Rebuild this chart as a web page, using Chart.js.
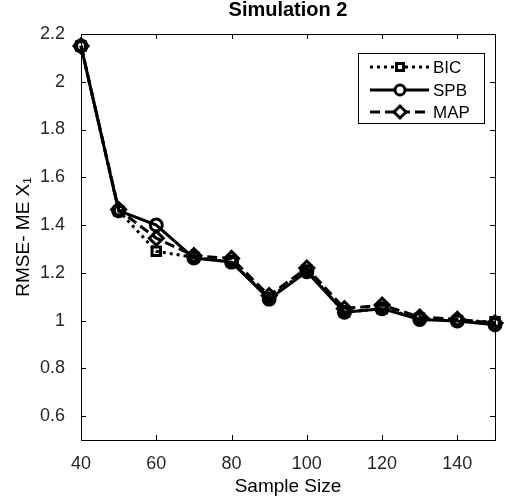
<!DOCTYPE html>
<html>
<head>
<meta charset="utf-8">
<script src="https://cdn.jsdelivr.net/npm/chart.js@4"></script>
<style>
  html, body { margin: 0; padding: 0; background: #fff; }
  #wrap { width: 505px; height: 502px; }
</style>
</head>
<body>
<div id="wrap"><canvas id="myChart"></canvas></div>
<script>
// Sample sizes (x axis)
const sampleSizes = [40, 50, 60, 70, 80, 90, 100, 110, 120, 130, 140, 150];

// RMSE values
const bicValues = [2.15, 1.46, 1.29, 1.265, 1.245, 1.095, 1.21, 1.035, 1.05, 1.01, 1.0, 0.995];
const spbValues = [2.15, 1.46, 1.40, 1.262, 1.245, 1.09, 1.205, 1.035, 1.05, 1.005, 0.998, 0.983];
const mapValues = [2.15, 1.465, 1.345, 1.272, 1.26, 1.105, 1.22, 1.05, 1.065, 1.015, 1.005, 0.99];

// Tick labels
const xTicks = [40, 60, 80, 100, 120, 140];
const yTicks = [0.6, 0.8, 1, 1.2, 1.4, 1.6, 1.8, 2, 2.2];

const font = 'Arial, "Liberation Sans", sans-serif';
const textColor = '#262626';

function toPoints(values) {
  return values.map((v, i) => ({ x: sampleSizes[i], y: v }));
}

// Box, inward ticks and legend (MATLAB style)
const matlabAxes = {
  id: 'matlabAxes',
  afterDraw(chart) {
    const ctx = chart.ctx;
    const area = chart.chartArea;
    const xs = chart.scales.x;
    const ys = chart.scales.y;
    ctx.save();
    ctx.strokeStyle = '#000';
    ctx.lineWidth = 1;
    ctx.strokeRect(area.left + 0.5, area.top + 0.5, area.right - area.left, area.bottom - area.top);

    const len = 5;
    xTicks.forEach((t) => {
      const px = Math.round(xs.getPixelForValue(t)) + 0.5;
      ctx.beginPath();
      ctx.moveTo(px, area.bottom); ctx.lineTo(px, area.bottom - len);
      ctx.moveTo(px, area.top); ctx.lineTo(px, area.top + len);
      ctx.stroke();
    });
    yTicks.forEach((t) => {
      const py = Math.round(ys.getPixelForValue(t)) + 0.5;
      ctx.beginPath();
      ctx.moveTo(area.left, py); ctx.lineTo(area.left + len, py);
      ctx.moveTo(area.right, py); ctx.lineTo(area.right - len, py);
      ctx.stroke();
    });

    // Legend
    const bx = 358, by = 53, bw = 126, bh = 70;
    ctx.fillStyle = '#fff';
    ctx.fillRect(bx, by, bw, bh);
    ctx.strokeStyle = '#000';
    ctx.lineWidth = 1;
    ctx.strokeRect(bx + 0.5, by + 0.5, bw, bh);

    const rows = [67, 90, 112];
    chart.data.datasets.forEach((ds, i) => {
      const y = rows[i];
      ctx.save();
      ctx.strokeStyle = '#000';
      ctx.lineWidth = ds.borderWidth;
      ctx.setLineDash(ds.borderDash || []);
      ctx.beginPath();
      ctx.moveTo(370, y);
      ctx.lineTo(429, y);
      ctx.stroke();
      ctx.setLineDash([]);
      ctx.fillStyle = '#fff';
      ctx.lineWidth = ds.pointBorderWidth;
      Chart.helpers.drawPoint(ctx, {
        pointStyle: ds.pointStyle,
        rotation: 0,
        radius: ds.pointRadius - 1,
        borderWidth: ds.pointBorderWidth
      }, 400, y);
      ctx.fillStyle = '#000';
      ctx.font = '17px ' + font;
      ctx.textBaseline = 'middle';
      ctx.textAlign = 'left';
      ctx.fillText(ds.label, 433, y + 1);
      ctx.restore();
    });
    ctx.restore();
  }
};

const common = {
  borderColor: '#000',
  borderWidth: 3,
  pointBorderColor: '#000',
  pointBackgroundColor: 'rgba(255,255,255,0)',
  pointBorderWidth: 3,
  pointRadius: 6,
  fill: false,
  tension: 0,
  clip: false
};

new Chart(document.getElementById('myChart'), {
  type: 'line',
  data: {
    datasets: [
      Object.assign({}, common, { label: 'BIC', data: toPoints(bicValues), borderDash: [3, 4], pointStyle: 'rect', pointRadius: 6 }),
      Object.assign({}, common, { label: 'SPB', data: toPoints(spbValues), pointStyle: 'circle' }),
      Object.assign({}, common, { label: 'MAP', data: toPoints(mapValues), borderDash: [10, 5], pointStyle: 'rectRot', pointRadius: 7 })
    ]
  },
  options: {
    responsive: true,
    maintainAspectRatio: false,
    animation: false,
    layout: { padding: { right: 9, left: 0, top: 0, bottom: 0 } },
    plugins: {
      legend: { display: false },
      tooltip: { enabled: false },
      title: {
        display: true,
        fullSize: false,
        text: 'Simulation 2',
        color: '#000',
        font: { family: font, size: 20, weight: 'bold', lineHeight: 1 },
        padding: { top: 0, bottom: 14 }
      }
    },
    scales: {
      x: {
        type: 'linear',
        min: 40,
        max: 150,
        afterBuildTicks: (scale) => { scale.ticks = xTicks.map((v) => ({ value: v })); },
        afterFit: (scale) => { scale.height = 62; },
        grid: { display: false },
        border: { display: true, color: '#000', width: 1 },
        ticks: { color: textColor, font: { family: font, size: 18 }, padding: 5, maxRotation: 0 },
        title: {
          display: true,
          text: 'Sample Size',
          color: '#000',
          font: { family: font, size: 19 },
          padding: { top: 0, bottom: 4 }
        }
      },
      y: {
        type: 'linear',
        min: 0.5,
        max: 2.2,
        afterBuildTicks: (scale) => { scale.ticks = yTicks.map((v) => ({ value: v })); },
        afterFit: (scale) => { scale.width = 81; },
        grid: { display: false },
        border: { display: true, color: '#000', width: 1 },
        ticks: {
          color: textColor,
          font: { family: font, size: 18 },
          padding: 8,
          callback: (v) => String(Math.round(v * 10) / 10)
        },
        title: {
          display: true,
          text: 'RMSE- ME X\u2081',
          color: '#000',
          font: { family: font, size: 19 },
          padding: { top: 12, bottom: 0 }
        }
      }
    }
  },
  plugins: [matlabAxes]
});
</script>
</body>
</html>
